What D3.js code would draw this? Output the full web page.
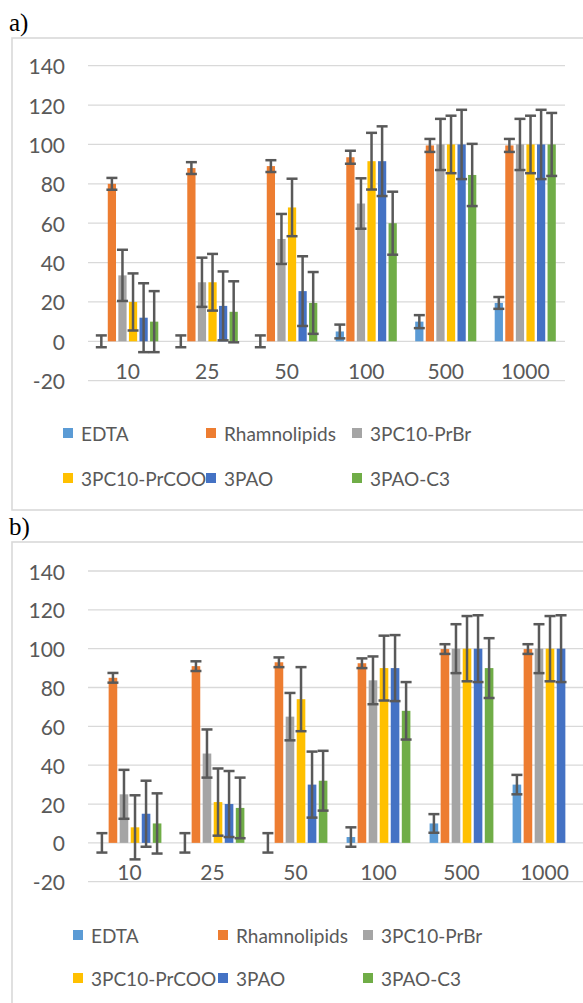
<!DOCTYPE html>
<html>
<head>
<meta charset="utf-8">
<script src="https://cdn.jsdelivr.net/npm/d3@7"></script>
<style>
  body { margin: 0; background: #fff; }
  svg { display: block; }
</style>
</head>
<body>
<script>
const pageW = 583;
const pageH = 1003;

// shared
const categories = ["10", "25", "50", "100", "500", "1000"];
const seriesNames = ["EDTA", "Rhamnolipids", "3PC10-PrBr", "3PC10-PrCOO", "3PAO", "3PAO-C3"];
const seriesColors = ["#5B9BD5", "#ED7D31", "#A5A5A5", "#FFC000", "#4472C4", "#70AD47"];
const yTicks = [-20, 0, 20, 40, 60, 80, 100, 120, 140];

// panel a) values, one array per series, and their error bars
const edtaA = [0, 0, 0, 5, 10, 19.5];
const rhamA = [80, 88, 89, 93.5, 99.5, 99.5];
const prbrA = [33.5, 30, 52, 70, 100, 100];
const prcooA = [20, 30, 68, 91.5, 100, 100];
const paoA = [12, 18, 25.5, 91.5, 100, 100];
const paoC3A = [10, 15, 19.5, 60, 84.5, 100];

const edtaErrA = [3, 3, 3, 3.5, 3.3, 3];
const rhamErrA = [3, 3, 3, 3.3, 3.3, 3.3];
const prbrErrA = [13, 12.5, 12.7, 12.8, 13, 13];
const prcooErrA = [14.5, 14.4, 14.6, 14.4, 14.6, 14.6];
const paoErrA = [17.5, 17.5, 17.7, 17.7, 17.6, 17.6];
const paoC3ErrA = [15.5, 15.5, 15.7, 16, 15.8, 16];

// panel b)
const edtaB = [0, 0, 0, 3, 10, 30];
const rhamB = [85, 91, 93, 92.5, 99.8, 99.8];
const prbrB = [25, 46, 65, 83.7, 100, 100];
const prcooB = [8, 21, 74, 90, 100, 100];
const paoB = [15, 20, 30, 90, 100, 100];
const paoC3B = [10, 18, 32, 68, 90, null];

const edtaErrB = [5, 5, 5, 5, 4.8, 5];
const rhamErrB = [2.5, 2.5, 2.5, 2.5, 2.5, 2.5];
const prbrErrB = [12.6, 12.4, 12.2, 12.3, 12.6, 12.6];
const prcooErrB = [16.5, 17.3, 16.5, 16.7, 16.8, 16.8];
const paoErrB = [17, 17, 17, 17, 17.2, 17.2];
const paoC3ErrB = [15.5, 15.6, 15.4, 14.8, 15.4, null];

const textColor = "#595959";
const gridColor = "#D9D9D9";
const labelFont = "Lato, 'Open Sans', sans-serif";

const svg = d3.select("body").append("svg")
    .attr("width", pageW)
    .attr("height", pageH);

function drawPanel(p) {
    let g = svg.append("g");

    g.append("text")
        .attr("x", 9).attr("y", p.labelY)
        .attr("font-family", "'Liberation Serif', serif")
        .attr("font-size", 25)
        .attr("fill", "#000")
        .text(p.label);

    g.append("rect")
        .attr("x", 12).attr("y", p.frameTop)
        .attr("width", 700).attr("height", p.frameBottom - p.frameTop)
        .attr("fill", "none")
        .attr("stroke", gridColor)
        .attr("stroke-width", 1.6);

    let x = d3.scaleBand()
        .domain(categories)
        .range([p.plotLeft, p.plotRight])
        .padding(0);

    let xs = d3.scaleBand()
        .domain(d3.range(seriesNames.length))
        .range([0, x.bandwidth()])
        .paddingInner(0.22)
        .paddingOuter(0.87);

    let y = d3.scaleLinear()
        .domain([-20, 140])
        .range([p.plotBottom, p.plotTop]);

    // gridlines
    g.selectAll(".grid")
        .data(yTicks)
        .enter().append("line")
        .attr("x1", p.plotLeft).attr("x2", p.plotRight)
        .attr("y1", d => y(d)).attr("y2", d => y(d))
        .attr("stroke", gridColor)
        .attr("stroke-width", 1.3);

    // y tick labels
    g.selectAll(".ytick")
        .data(yTicks)
        .enter().append("text")
        .attr("x", 65).attr("y", d => y(d))
        .attr("text-anchor", "end")
        .attr("dominant-baseline", "central")
        .attr("font-family", labelFont)
        .attr("font-size", 21)
        .attr("fill", textColor)
        .text(d => d);

    // category labels, sitting just above the -20 line
    g.selectAll(".xtick")
        .data(categories)
        .enter().append("text")
        .attr("x", d => x(d) + x.bandwidth() / 2)
        .attr("y", y(-20) - 1.5)
        .attr("text-anchor", "middle")
        .attr("font-family", labelFont)
        .attr("font-size", 21)
        .attr("fill", textColor)
        .text(d => d);

    // flatten to one record per bar
    let bars = [];
    p.values.forEach(function(vals, s) {
        vals.forEach(function(v, c) {
            if (v === null) return;
            bars.push({s: s, cat: categories[c], v: v, e: p.errors[s][c]});
        });
    });

    g.selectAll(".bar")
        .data(bars)
        .enter().append("rect")
        .attr("x", d => x(d.cat) + xs(d.s))
        .attr("width", xs.bandwidth())
        .attr("y", d => y(Math.max(0, d.v)))
        .attr("height", d => Math.abs(y(d.v) - y(0)))
        .attr("fill", d => seriesColors[d.s]);

    let capW = 11;
    let eg = g.selectAll(".err")
        .data(bars)
        .enter().append("g")
        .attr("transform", d => "translate(" + (x(d.cat) + xs(d.s) + xs.bandwidth() / 2) + ",0)")
        .attr("stroke", textColor)
        .attr("stroke-width", 2.5);
    eg.append("line")
        .attr("x1", 0).attr("x2", 0)
        .attr("y1", d => y(d.v + d.e)).attr("y2", d => y(d.v - d.e));
    eg.append("line")
        .attr("x1", -capW / 2).attr("x2", capW / 2)
        .attr("y1", d => y(d.v + d.e)).attr("y2", d => y(d.v + d.e));
    eg.append("line")
        .attr("x1", -capW / 2).attr("x2", capW / 2)
        .attr("y1", d => y(d.v - d.e)).attr("y2", d => y(d.v - d.e));

    // legend, 3 per row
    let lg = g.selectAll(".leg")
        .data(seriesNames)
        .enter().append("g")
        .attr("transform", (d, i) => "translate(" + p.legendX[i % 3] + "," + p.legendY[Math.floor(i / 3)] + ")");
    lg.append("rect")
        .attr("x", 0).attr("y", -5)
        .attr("width", 10).attr("height", 10)
        .attr("fill", (d, i) => seriesColors[i]);
    lg.append("text")
        .attr("x", 18).attr("y", 0)
        .attr("dominant-baseline", "central")
        .attr("font-family", labelFont)
        .attr("font-size", 19)
        .attr("fill", textColor)
        .text(d => d);
}

drawPanel({
    label: "a)", labelY: 31,
    frameTop: 38, frameBottom: 510,
    plotLeft: 88, plotRight: 565, plotTop: 65.7, plotBottom: 380.7,
    legendX: [63, 206, 352], legendY: [433, 478],
    values: [edtaA, rhamA, prbrA, prcooA, paoA, paoC3A],
    errors: [edtaErrA, rhamErrA, prbrErrA, prcooErrA, paoErrA, paoC3ErrA]
});

drawPanel({
    label: "b)", labelY: 535,
    frameTop: 542, frameBottom: 1040,
    plotLeft: 88, plotRight: 586, plotTop: 571, plotBottom: 881.7,
    legendX: [73, 218, 363], legendY: [935, 978],
    values: [edtaB, rhamB, prbrB, prcooB, paoB, paoC3B],
    errors: [edtaErrB, rhamErrB, prbrErrB, prcooErrB, paoErrB, paoC3ErrB]
});
</script>
</body>
</html>
